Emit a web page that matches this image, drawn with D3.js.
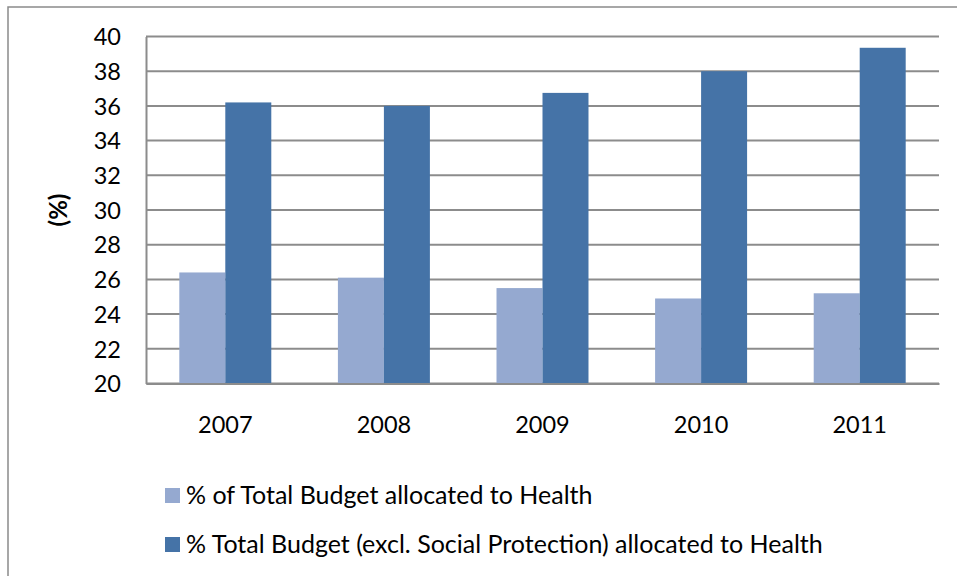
<!DOCTYPE html>
<html>
<head>
<meta charset="utf-8">
<script src="https://cdn.jsdelivr.net/npm/d3@7"></script>
<style>
  html, body { margin: 0; padding: 0; background: #fff; }
  svg { display: block; }
  text { font-family: Lato, "Open Sans", sans-serif; fill: #000; }
</style>
</head>
<body>
<svg id="chart" width="957" height="576"></svg>
<script>
// Health share of the national budget, by year
const years = ["2007", "2008", "2009", "2010", "2011"];
const totalBudgetShare = [26.4, 26.1, 25.5, 24.9, 25.2];
const exclSocialProtectionShare = [36.2, 36.0, 36.75, 38.0, 39.35];
const seriesNames = [
  "% of Total Budget allocated to Health",
  "% Total Budget (excl. Social Protection) allocated to Health"
];
const seriesColors = ["#95a9d0", "#4573a7"];
const yTicks = [20, 22, 24, 26, 28, 30, 32, 34, 36, 38, 40];
const yLabel = "(%)";

const svg = d3.select("#chart");
const W = 957, H = 576;
const plot = { left: 146, right: 939, top: 36.5, bottom: 383.5 };

// outer chart frame (only top and left edges fall inside the canvas)
svg.append("rect")
  .attr("x", 8).attr("y", 7)
  .attr("width", W + 10).attr("height", H + 10)
  .attr("fill", "#fff").attr("stroke", "#8a8a8a").attr("stroke-width", 1.5);

const x0 = d3.scaleBand().domain(years)
  .range([plot.left, plot.right]).paddingInner(0.42).paddingOuter(0.21);
const x1 = d3.scaleBand().domain([0, 1]).range([0, x0.bandwidth()]);
const y = d3.scaleLinear().domain([20, 40]).range([plot.bottom, plot.top]);

// horizontal gridlines
svg.append("g").selectAll("line").data(yTicks).join("line")
  .attr("x1", plot.left).attr("x2", plot.right)
  .attr("y1", d => y(d)).attr("y2", d => y(d))
  .attr("stroke", "#8c8c8c").attr("stroke-width", 2);

// bars
const rows = years.map((yr, i) => ({ yr, vals: [totalBudgetShare[i], exclSocialProtectionShare[i]] }));
svg.append("g").selectAll("g").data(rows).join("g")
  .attr("transform", d => `translate(${x0(d.yr)},0)`)
  .selectAll("rect").data(d => d.vals.map((v, k) => ({ v, k }))).join("rect")
  .attr("x", d => x1(d.k)).attr("width", x1.bandwidth())
  .attr("y", d => y(d.v)).attr("height", d => y(20) - y(d.v))
  .attr("fill", d => seriesColors[d.k]);

// y axis
const yAxis = svg.append("g").attr("transform", `translate(${plot.left},0)`)
  .call(d3.axisLeft(y).tickValues(yTicks).tickSize(0).tickPadding(25));
yAxis.select(".domain").attr("stroke", "#8c8c8c").attr("stroke-width", 2);
yAxis.selectAll("text").style("font-size", "23.5px").style("font-family", "Lato, sans-serif")
  .attr("fill", "#000").attr("dy", "0.35em");

// x axis labels
const xAxis = svg.append("g").attr("transform", `translate(0,${plot.bottom})`)
  .call(d3.axisBottom(x0).tickSize(0).tickPadding(33));
xAxis.select(".domain").attr("stroke", "#8c8c8c").attr("stroke-width", 2);
xAxis.selectAll("text").style("font-size", "23.5px").style("font-family", "Lato, sans-serif")
  .attr("fill", "#000");

// y axis title
svg.append("text")
  .attr("transform", `translate(67,${(plot.top + plot.bottom) / 2}) rotate(-90)`)
  .attr("text-anchor", "middle")
  .style("font-size", "24px").style("font-weight", "bold")
  .text(yLabel);

// legend
const legend = svg.append("g").selectAll("g").data(seriesNames).join("g")
  .attr("transform", (d, i) => `translate(165,${488 + i * 49})`);
legend.append("rect").attr("width", 15).attr("height", 15)
  .attr("fill", (d, i) => seriesColors[i]);
legend.append("text").attr("x", 21).attr("y", 7.5).attr("dy", "0.35em")
  .style("font-size", "25px").text(d => d);
</script>
</body>
</html>
